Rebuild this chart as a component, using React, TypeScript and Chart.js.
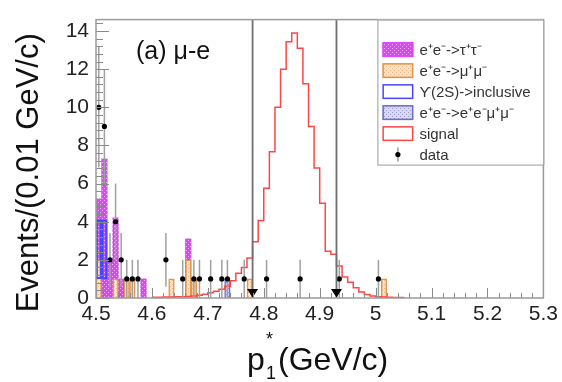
import React, { useEffect, useRef } from "react";
import { Chart, registerables } from "chart.js";
Chart.register(...registerables);

const FONT = '"Liberation Sans", Arial, Helvetica, sans-serif';

const X_MIN = 4.5;
const X_MAX = 5.3;
const Y_MIN = 0;
const Y_MAX = 14.6;
const BIN_WIDTH = 0.01;
const X_TICKS = [4.5, 4.6, 4.7, 4.8, 4.9, 5.0, 5.1, 5.2, 5.3];
const X_TICK_LABELS = ["4.5", "4.6", "4.7", "4.8", "4.9", "5", "5.1", "5.2", "5.3"];
const X_MINOR_STEP = 0.02;
const Y_TICKS = [0, 2, 4, 6, 8, 10, 12, 14];
const Y_TICK_LABELS = ["0", "2", "4", "6", "8", "10", "12", "14"];
const Y_MINOR_STEP = 0.4;

const TAUTAU_BINS = [0, 1, 2, 3, 4, 8, 16];
const TAUTAU_VALUES = [5.2, 7.3, 2, 4.2, 1, 1, 3.1];
const MUMU_BINS = [0, 3, 5, 6, 13, 16, 17, 27, 51];
const MUMU_VALUES = [2, 1, 1, 1, 1, 2, 1, 1, 1];
const UPS2S_BINS = [0, 1];
const UPS2S_LOW = [1, 1];
const UPS2S_HIGH = [4.1, 4.1];
const EEMUMU_BINS = [0, 23];
const EEMUMU_VALUES = [1, 1];
const SIGNAL_FIRST_BIN = 10;
const SIGNAL_VALUES = [
  0.04, 0.04, 0.05, 0.05, 0.06, 0.06, 0.08, 0.1, 0.15, 0.2, 0.28, 0.36, 0.46,
  0.62, 0.9, 1.3, 1.6, 2.1, 2.95, 4.06, 5.75, 7.67, 10.0, 12.0, 13.44, 13.9,
  13.1, 11.24, 9.0, 6.82, 4.97, 2.45, 2.3, 1.68, 1.1, 0.83, 0.54, 0.32, 0.19,
  0.1, 0.07, 0.05, 0.04, 0.03, 0.03,
];
const DATA_BINS = [0, 1, 2, 3, 4, 5, 6, 7, 12, 15, 17, 18, 20, 22, 23, 26, 30, 36, 43, 50];
const DATA_VALUES = [10, 9, 2, 4, 2, 1, 1, 1, 2, 1, 1, 1, 1, 1, 1, 1, 1, 1, 1, 1];
const CUTS = [4.78, 4.93];

const LABEL_TAUTAU = "e⁺e⁻->τ⁺τ⁻";
const LABEL_MUMU = "e⁺e⁻->μ⁺μ⁻";
const LABEL_UPS = "ϒ(2S)->inclusive";
const LABEL_EEMUMU = "e⁺e⁻->e⁺e⁻μ⁺μ⁻";
const LABEL_SIGNAL = "signal";
const LABEL_DATA = "data";
const PANEL_LABEL = "(a) μ-e";
const Y_TITLE = "Events/(0.01 GeV/c)";

const binCenter = (k: number) => Number((X_MIN + (k + 0.5) * BIN_WIDTH).toFixed(4));
const binEdge = (k: number) => Number((X_MIN + k * BIN_WIDTH).toFixed(4));

function makePattern(bg: string, dot: string): CanvasPattern | string {
  const c = document.createElement("canvas");
  c.width = 4;
  c.height = 4;
  const g = c.getContext("2d");
  if (!g) return bg;
  g.fillStyle = bg;
  g.fillRect(0, 0, 4, 4);
  g.fillStyle = dot;
  g.fillRect(0, 0, 1, 1);
  g.fillRect(2, 2, 1, 1);
  return g.createPattern(c, "repeat") || bg;
}

export default function App() {
  const ref = useRef<HTMLCanvasElement | null>(null);

  useEffect(() => {
    const canvas = ref.current;
    if (!canvas) return;

    const magentaFill = makePattern("rgb(214,72,246)", "rgb(244,175,255)");
    const orangeFill = makePattern("rgb(251,226,200)", "rgb(236,178,128)");
    const eemumuFill = makePattern("rgb(218,218,238)", "rgb(150,150,205)");
    const magentaBorder = "rgb(225,70,255)";
    const orangeBorder = "rgb(222,150,80)";
    const eemumuBorder = "rgb(110,110,195)";
    const upsBorder = "rgb(70,70,255)";
    const signalColor = "rgb(255,70,70)";

    const legendEntries = [
      { label: LABEL_TAUTAU, fill: magentaFill, border: magentaBorder },
      { label: LABEL_MUMU, fill: orangeFill, border: orangeBorder },
      { label: LABEL_UPS, fill: "#fff", border: upsBorder },
      { label: LABEL_EEMUMU, fill: eemumuFill, border: eemumuBorder },
      { label: LABEL_SIGNAL, fill: "#fff", border: signalColor },
      { label: LABEL_DATA, fill: null, border: "#000" },
    ];

    const signalData = SIGNAL_VALUES.map((v, i) => ({ x: binEdge(SIGNAL_FIRST_BIN + i), y: v }));
    signalData.push({ x: binEdge(SIGNAL_FIRST_BIN + SIGNAL_VALUES.length), y: 0 });

    const decor = {
      id: "decor",
      beforeDatasetDraw(chart: any, args: any) {
        if (args.index !== 0) return;
        const { ctx, scales } = chart;
        ctx.save();
        ctx.strokeStyle = "#a0a0a0";
        ctx.lineWidth = 1.5;
        DATA_BINS.forEach((b, i) => {
          const n = DATA_VALUES[i];
          const e = Math.sqrt(n);
          const x = scales.x.getPixelForValue(binCenter(b));
          const y1 = scales.y.getPixelForValue(Math.max(Y_MIN, n - e));
          const y2 = scales.y.getPixelForValue(Math.min(Y_MAX, n + e));
          ctx.beginPath();
          ctx.moveTo(x, y1);
          ctx.lineTo(x, y2);
          ctx.stroke();
        });
        ctx.restore();
      },
      afterDatasetsDraw(chart: any) {
        const { ctx, chartArea, scales } = chart;
        const { left, right, top, bottom } = chartArea;
        ctx.save();
        // cut lines
        ctx.strokeStyle = "#707070";
        ctx.lineWidth = 1.8;
        CUTS.forEach((c) => {
          const x = scales.x.getPixelForValue(c);
          ctx.beginPath();
          ctx.moveTo(x, top);
          ctx.lineTo(x, bottom);
          ctx.stroke();
          ctx.fillStyle = "#000";
          ctx.beginPath();
          ctx.moveTo(x - 5.5, bottom - 9);
          ctx.lineTo(x + 5.5, bottom - 9);
          ctx.lineTo(x, bottom - 0.5);
          ctx.closePath();
          ctx.fill();
        });
        // ticks
        ctx.strokeStyle = "#8a8a8a";
        ctx.lineWidth = 1;
        const nx = Math.round((X_MAX - X_MIN) / X_MINOR_STEP);
        for (let i = 0; i <= nx; i++) {
          const x = Math.round(scales.x.getPixelForValue(X_MIN + i * X_MINOR_STEP)) + 0.5;
          const len = i % 5 === 0 ? 10 : 5;
          ctx.beginPath();
          ctx.moveTo(x, bottom);
          ctx.lineTo(x, bottom - len);
          ctx.stroke();
        }
        const ny = Math.floor((Y_MAX - Y_MIN) / Y_MINOR_STEP + 1e-6);
        for (let i = 0; i <= ny; i++) {
          const y = Math.round(scales.y.getPixelForValue(Y_MIN + i * Y_MINOR_STEP)) + 0.5;
          const len = i % 5 === 0 ? 13 : 7;
          ctx.beginPath();
          ctx.moveTo(left, y);
          ctx.lineTo(left + len, y);
          ctx.stroke();
        }
        // frame
        ctx.strokeStyle = "#9a9a9a";
        ctx.lineWidth = 1.5;
        ctx.strokeRect(left, top, right - left, bottom - top);

        // legend
        const boxW = 166;
        const boxH = 145;
        const bx = right - boxW;
        const by = top;
        ctx.fillStyle = "#fff";
        ctx.fillRect(bx, by, boxW, boxH);
        ctx.strokeStyle = "#9a9a9a";
        ctx.lineWidth = 1;
        ctx.strokeRect(bx + 0.5, by + 0.5, boxW, boxH);
        ctx.font = `15px ${FONT}`;
        ctx.textBaseline = "middle";
        ctx.textAlign = "left";
        legendEntries.forEach((en, i) => {
          const cy = by + 30 + i * 21;
          const sx = bx + 5;
          if (en.fill) {
            ctx.fillStyle = en.fill as any;
            ctx.fillRect(sx, cy - 7.5, 31, 15);
            ctx.strokeStyle = en.border;
            ctx.lineWidth = 1.5;
            ctx.strokeRect(sx + 0.75, cy - 6.75, 29.5, 13.5);
          } else {
            ctx.strokeStyle = "#999";
            ctx.lineWidth = 1.5;
            ctx.beginPath();
            ctx.moveTo(sx + 15.5, cy - 7);
            ctx.lineTo(sx + 15.5, cy + 7);
            ctx.stroke();
            ctx.fillStyle = "#000";
            ctx.beginPath();
            ctx.arc(sx + 15.5, cy, 2.6, 0, Math.PI * 2);
            ctx.fill();
          }
          ctx.fillStyle = "#333";
          ctx.fillText(en.label, bx + 42, cy + 1);
        });

        // panel label
        ctx.fillStyle = "#111";
        ctx.textBaseline = "alphabetic";
        ctx.font = `25px ${FONT}`;
        ctx.fillText(PANEL_LABEL, left + 40, top + 39);

        // y title
        ctx.save();
        ctx.font = `31px ${FONT}`;
        ctx.textAlign = "center";
        ctx.translate(38, (top + bottom) / 2 + 14);
        ctx.rotate(-Math.PI / 2);
        ctx.fillText(Y_TITLE, 0, 0);
        ctx.restore();

        // x title
        ctx.font = `32px ${FONT}`;
        ctx.textAlign = "left";
        const px = 247;
        const base = 370;
        ctx.fillText("p", px, base);
        ctx.font = `18px ${FONT}`;
        ctx.fillText("1", px + 19, base + 9);
        ctx.fillText("*", px + 19, base - 25);
        ctx.font = `32px ${FONT}`;
        ctx.fillText("(GeV/c)", px + 31, base);
        ctx.restore();
      },
    };

    const chart = new Chart(canvas, {
      type: "bar",
      data: {
        datasets: [
          {
            type: "scatter",
            label: LABEL_DATA,
            data: DATA_BINS.map((b, i) => ({ x: binCenter(b), y: DATA_VALUES[i] })),
            pointRadius: 2.6,
            pointBackgroundColor: "#000",
            pointBorderColor: "#000",
            pointBorderWidth: 0,
          } as any,
          {
            type: "line",
            label: LABEL_SIGNAL,
            data: signalData,
            stepped: "before",
            borderColor: signalColor,
            borderWidth: 1.5,
            pointRadius: 0,
            fill: false,
          } as any,
          {
            label: LABEL_UPS,
            data: UPS2S_BINS.map((b, i) => ({ x: binCenter(b), y: [UPS2S_LOW[i], UPS2S_HIGH[i]] })),
            backgroundColor: "rgba(255,255,255,0)",
            borderColor: upsBorder,
            borderWidth: 1.5,
            borderSkipped: false,
            grouped: false,
            barPercentage: 1,
            categoryPercentage: 1,
          } as any,
          {
            label: LABEL_MUMU,
            data: MUMU_BINS.map((b, i) => ({ x: binCenter(b), y: MUMU_VALUES[i] })),
            backgroundColor: orangeFill,
            borderColor: orangeBorder,
            borderWidth: { top: 1.5, left: 1.5, right: 1.5, bottom: 0 },
            borderSkipped: false,
            grouped: false,
            barPercentage: 1,
            categoryPercentage: 1,
          } as any,
          {
            label: LABEL_EEMUMU,
            data: EEMUMU_BINS.map((b, i) => ({ x: binCenter(b), y: EEMUMU_VALUES[i] })),
            backgroundColor: eemumuFill,
            borderColor: eemumuBorder,
            borderWidth: { top: 1.5, left: 1.5, right: 1.5, bottom: 0 },
            borderSkipped: false,
            grouped: false,
            barPercentage: 1,
            categoryPercentage: 1,
          } as any,
          {
            label: LABEL_TAUTAU,
            data: TAUTAU_BINS.map((b, i) => ({ x: binCenter(b), y: TAUTAU_VALUES[i] })),
            backgroundColor: magentaFill,
            borderColor: magentaBorder,
            borderWidth: 0,
            grouped: false,
            barPercentage: 1,
            categoryPercentage: 1,
          } as any,
        ],
      },
      options: {
        responsive: false,
        animation: false,
        layout: { padding: { left: 0, right: 18, top: 11, bottom: 0 } },
        plugins: { legend: { display: false }, tooltip: { enabled: false } },
        scales: {
          x: {
            type: "linear",
            min: X_MIN,
            max: X_MAX,
            offset: false,
            grid: { display: false, drawTicks: false },
            border: { display: false },
            ticks: {
              padding: 4,
              autoSkip: false,
              maxRotation: 0,
              color: "#222",
              font: { family: FONT, size: 21 },
              callback: (_v: any, i: number) => X_TICK_LABELS[i],
            },
            afterBuildTicks: (s: any) => {
              s.ticks = X_TICKS.map((v) => ({ value: v }));
            },
            afterFit: (s: any) => {
              s.height = 84;
            },
          },
          y: {
            type: "linear",
            min: Y_MIN,
            max: Y_MAX,
            grid: { display: false, drawTicks: false },
            border: { display: false },
            ticks: {
              padding: 7,
              autoSkip: false,
              color: "#222",
              font: { family: FONT, size: 21 },
              callback: (_v: any, i: number) => Y_TICK_LABELS[i],
            },
            afterBuildTicks: (s: any) => {
              s.ticks = Y_TICKS.map((v) => ({ value: v }));
            },
            afterFit: (s: any) => {
              s.width = 96;
            },
          },
        },
      } as any,
      plugins: [decor],
    });
    return () => chart.destroy();
  }, []);

  return (
    <div style={{ position: "fixed", left: 0, top: 0, width: 562, height: 382, background: "#fff" }}>
      <canvas ref={ref} width={562} height={382} style={{ display: "block" }} />
    </div>
  );
}
